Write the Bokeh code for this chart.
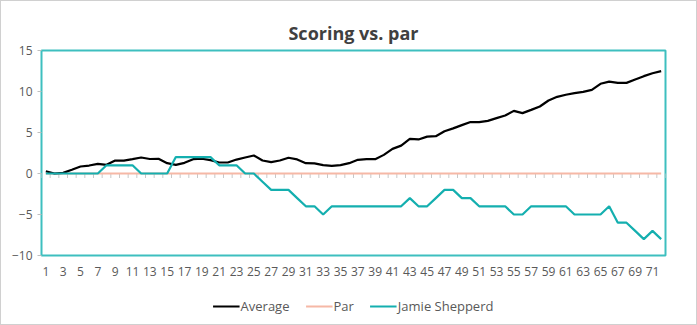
from bokeh.plotting import figure
from bokeh.models import Range1d, FixedTicker, Legend, LegendItem
from bokeh.layouts import column
from bokeh.embed import file_html
from bokeh.resources import INLINE

rounds = list(range(1, 73))
average = [0.28, 0.0, 0.08, 0.45, 0.85, 0.97, 1.18, 1.06, 1.58, 1.58,
           1.75, 1.95, 1.77, 1.80, 1.26, 1.06, 1.30, 1.75, 1.80, 1.63,
           1.34, 1.34, 1.70, 1.95, 2.20, 1.58, 1.38, 1.58, 1.92, 1.72,
           1.26, 1.24, 1.02, 0.92, 1.02, 1.26, 1.67, 1.75, 1.75, 2.27,
           3.00, 3.40, 4.23, 4.15, 4.50, 4.55, 5.16, 5.50, 5.90, 6.28,
           6.26, 6.42, 6.75, 7.07, 7.64, 7.36, 7.76, 8.17, 8.90, 9.35,
           9.60, 9.80, 9.96, 10.20, 10.94, 11.20, 11.05, 11.05, 11.46, 11.87,
           12.23, 12.48]
par = [0] * 72
jamie = [0, 0, 0, 0, 0, 0, 0, 1, 1, 1,
         1, 0, 0, 0, 0, 2, 2, 2, 2, 2,
         1, 1, 1, 0, 0, -1, -2, -2, -2, -3,
         -4, -4, -5, -4, -4, -4, -4, -4, -4, -4,
         -4, -4, -3, -4, -4, -3, -2, -2, -3, -3,
         -4, -4, -4, -4, -5, -5, -4, -4, -4, -4,
         -4, -5, -5, -5, -5, -4, -6, -6, -7, -8,
         -7, -8]
series_names = ["Average", "Par", "Jamie Shepperd"]
y_ticks = [-10, -5, 0, 5, 10, 15]
x_tick_labels = list(range(1, 72, 2))

FONT = "Open Sans"
TEAL = "#14AFAF"
BORDER_TEAL = "#3EBFBF"
PINK = "#F6B8A6"
TXT = "#595959"
colors = ["black", PINK, TEAL]
widths = [2.2, 2, 2.2]

p = figure(frame_width=624, frame_height=205,
           output_backend="svg", toolbar_location=None,
           x_range=Range1d(rounds[0] - 0.5, rounds[-1] + 0.5),
           y_range=Range1d(min(y_ticks), max(y_ticks)),
           min_border_left=40, min_border_right=31,
           min_border_top=49, min_border_bottom=32)

p.title.text = "Scoring vs. par"
p.title.align = "center"
p.title.text_font = FONT
p.title.text_font_size = "18px"
p.title.text_font_style = "bold"
p.title.text_color = "#404040"
p.title.standoff = 12

p.outline_line_color = BORDER_TEAL
p.outline_line_width = 2
p.xgrid.visible = False
p.ygrid.visible = False

# y axis
p.yaxis.ticker = FixedTicker(ticks=y_ticks)
p.yaxis.axis_line_color = None
p.yaxis.major_tick_in = 0
p.yaxis.major_tick_out = 4
p.yaxis.major_tick_line_color = "#bfbfbf"
p.yaxis.minor_tick_line_color = None
p.yaxis.major_label_text_font = FONT
p.yaxis.major_label_text_font_size = "12px"
p.yaxis.major_label_text_color = TXT

# x axis (labels only, low position)
p.xaxis.ticker = FixedTicker(ticks=x_tick_labels)
p.xaxis.axis_line_color = None
p.xaxis.major_tick_line_color = None
p.xaxis.minor_tick_line_color = None
p.xaxis.major_tick_in = 0
p.xaxis.major_tick_out = 0
p.xaxis.major_label_standoff = 11
p.xaxis.major_label_text_font = FONT
p.xaxis.major_label_text_font_size = "12px"
p.xaxis.major_label_text_color = TXT

# category tick marks along the zero line (between categories)
bounds = [r - 0.5 for r in rounds] + [rounds[-1] + 0.5]
p.segment(x0=bounds, x1=bounds, y0=[0] * len(bounds), y1=[-0.55] * len(bounds),
          line_color="#c8c8c8", line_width=1)

r_par = p.line(rounds, par, line_color=colors[1], line_width=widths[1])
r_avg = p.line(rounds, average, line_color=colors[0], line_width=widths[0])
r_jam = p.line(rounds, jamie, line_color=colors[2], line_width=widths[2])

# legend strip below the chart (its lines lie outside its own view)
lg = figure(width=695, height=37, output_backend="svg", toolbar_location=None,
            x_range=Range1d(-2, -1), y_range=Range1d(-2, -1), min_border=0)
lg.axis.visible = False
lg.xgrid.visible = False
lg.ygrid.visible = False
lg.outline_line_color = None
items = []
for name, vals, c, w in zip(series_names, [average, par, jamie], colors, widths):
    r = lg.line(rounds, vals, line_color=c, line_width=w)
    items.append(LegendItem(label=name, renderers=[r]))
legend = Legend(items=items, orientation="horizontal", location="center",
                border_line_color=None, background_fill_alpha=0,
                label_text_font=FONT, label_text_font_size="13px",
                label_text_color=TXT, glyph_width=27, spacing=16,
                label_standoff=1, margin=0, padding=2)
lg.add_layout(legend)

layout = column(p, lg, spacing=0, styles={"border": "1px solid #d0d0d0"})

open("out.html", "w").write(file_html(layout, INLINE))
